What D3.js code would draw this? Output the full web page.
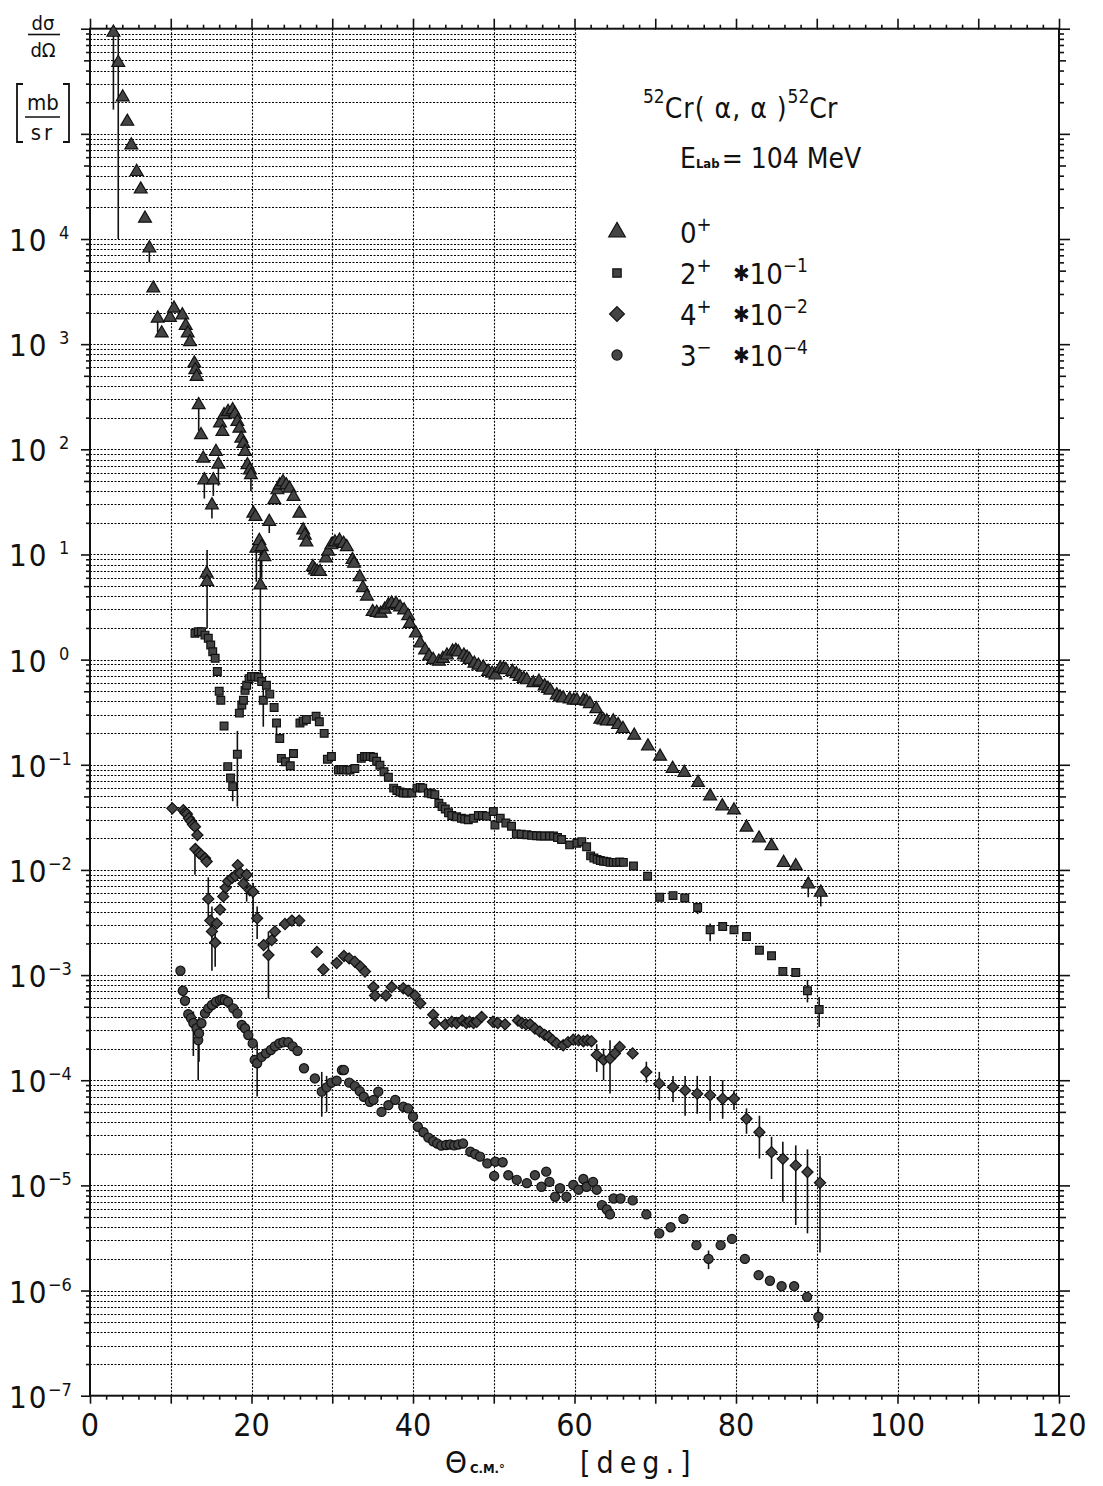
<!DOCTYPE html>
<html>
<head>
<meta charset="utf-8">
<script src="https://cdn.jsdelivr.net/npm/d3@7"></script>
<style>
  body { margin: 0; background: #fff; }
  text { font-family: "DejaVu Sans Condensed", "DejaVu Sans", sans-serif; fill: #111; }
</style>
</head>
<body>
<svg id="chart" width="1103" height="1486"></svg>
<script>
// 52Cr(alpha,alpha)52Cr angular distributions at E_lab = 104 MeV
// [theta_cm (deg), dsigma/dOmega (mb/sr)], excited states already scaled

const groundState = [
  [2.9, 9.2e5], [3.5, 4.75e5], [4.05, 2.23e5], [4.62, 1.31e5], [5.12, 7.8e4], [5.78, 4.36e4],
  [6.28, 2.97e4], [6.81, 1.57e4], [7.35, 8.2e3], [7.84, 3.4e3], [8.38, 1.76e3], [8.88, 1.27e3],
  [9.9, 1.79e3], [10.4, 2.19e3], [11.43, 1.89e3], [11.85, 1.5e3], [12.1, 1.27e3], [12.38, 1.05e3],
  [12.92, 658], [13.04, 568], [13.2, 490], [13.46, 264], [13.75, 137], [14.03, 82], [14.16, 51],
  [14.45, 6.6], [14.5, 5.5], [15.1, 29.5], [15.27, 51], [15.6, 95], [15.9, 72], [16.1, 177],
  [16.4, 147], [16.6, 212], [17.1, 228], [17.67, 237], [17.96, 216], [18.25, 183], [18.5, 158],
  [18.74, 127], [18.99, 113], [19.2, 95], [19.5, 71], [19.8, 63.5], [19.93, 57], [20.23, 24.6],
  [20.5, 22.9], [20.6, 11.4], [20.97, 13.5], [21.1, 5.1], [21.26, 11.8], [21.6, 9.5], [22.2, 20.5],
  [22.83, 33], [23.2, 41], [23.5, 45.7], [23.9, 49], [24.3, 45.7], [24.7, 42.5], [25.2, 35.4],
  [25.93, 24.6], [26.4, 17], [26.6, 15.2], [26.8, 13.1], [27.6, 7.6], [27.86, 7.1], [28.15, 6.85],
  [28.5, 6.85], [29.2, 9.2], [29.5, 10.7], [29.9, 12.3], [30.34, 13.1], [30.9, 13.6], [31.4, 12.7],
  [31.8, 11.8], [32.5, 8.9], [32.7, 8.2], [33.4, 6.1], [33.8, 4.8], [34.3, 4.0], [35.0, 2.85],
  [35.5, 2.8], [36.0, 2.75], [36.5, 3.0], [36.95, 3.3], [37.35, 3.43], [37.9, 3.4], [38.4, 3.15],
  [38.9, 2.95], [39.4, 2.6], [39.6, 2.2], [40.35, 1.78], [40.9, 1.43], [41.5, 1.23], [42.0, 1.08],
  [42.5, 1.0], [43.2, 0.96], [43.7, 1.02], [44.2, 1.1], [44.9, 1.2], [45.3, 1.22], [45.6, 1.18],
  [46.3, 1.1], [46.7, 1.05], [47.0, 1.0], [47.6, 0.92], [48.1, 0.88], [48.7, 0.845], [49.3, 0.77],
  [49.8, 0.74], [50.2, 0.71], [50.8, 0.83], [51.2, 0.82], [51.5, 0.80], [52.3, 0.77], [52.8, 0.73],
  [53.2, 0.69], [53.7, 0.66], [54.1, 0.64], [54.9, 0.60], [55.6, 0.62], [56.3, 0.56], [56.7, 0.53],
  [57.0, 0.51], [57.8, 0.46], [58.2, 0.44], [58.6, 0.43], [59.4, 0.42], [59.9, 0.41], [60.3, 0.41],
  [61.1, 0.41], [61.5, 0.40], [61.9, 0.38], [62.7, 0.34], [63.2, 0.27], [63.6, 0.265], [64.0, 0.26],
  [64.8, 0.26], [65.4, 0.24], [66.0, 0.22], [67.4, 0.19], [69.1, 0.15], [70.6, 0.12],
  [72.15, 0.092], [73.6, 0.084], [75.3, 0.0675], [76.8, 0.0504], [78.3, 0.0405], [79.75, 0.037],
  [81.3, 0.0254], [82.85, 0.020], [84.4, 0.0169], [85.9, 0.0117], [87.4, 0.0109], [88.95, 0.0073],
  [90.5, 0.0061]
];

const state2plus = [
  [13.0, 1.78], [13.4, 1.84], [13.8, 1.84], [14.24, 1.71], [14.65, 1.6], [14.95, 1.38], [15.2, 1.19],
  [15.5, 1.03], [15.77, 0.77], [16.0, 0.50], [16.2, 0.41], [16.6, 0.234], [17.06, 0.096], [17.4, 0.075],
  [17.67, 0.062], [18.25, 0.126], [18.5, 0.31], [18.8, 0.37], [19.0, 0.41], [19.2, 0.51], [19.4, 0.57],
  [19.7, 0.66], [20.0, 0.69], [20.4, 0.69], [20.85, 0.68], [21.26, 0.62], [21.46, 0.41], [21.85, 0.57],
  [22.26, 0.47], [22.8, 0.35], [23.1, 0.25], [23.5, 0.178], [23.7, 0.115], [24.2, 0.107], [24.8, 0.098],
  [25.2, 0.128], [26.0, 0.25], [26.4, 0.26], [26.8, 0.27], [28.0, 0.29], [28.4, 0.257], [29.0, 0.199],
  [29.4, 0.113], [29.9, 0.12], [30.76, 0.089], [31.1, 0.09], [31.4, 0.090], [31.8, 0.089], [32.2, 0.089],
  [32.8, 0.092], [33.6, 0.115], [34.0, 0.12], [34.3, 0.12], [34.7, 0.12], [35.1, 0.118], [35.5, 0.108],
  [35.9, 0.099], [36.4, 0.086], [36.95, 0.076], [37.6, 0.06], [38.0, 0.057], [38.4, 0.055], [38.8, 0.054],
  [39.2, 0.054], [39.85, 0.054], [40.5, 0.06], [40.9, 0.061], [41.2, 0.06], [41.9, 0.054], [42.3, 0.053],
  [42.7, 0.052], [43.2, 0.043], [43.6, 0.04], [44.0, 0.038], [44.4, 0.035], [44.8, 0.033], [45.4, 0.032],
  [46.0, 0.031], [46.4, 0.0305], [46.85, 0.030], [47.5, 0.031], [48.1, 0.033], [48.6, 0.033], [49.1, 0.0325],
  [49.95, 0.036], [50.15, 0.0267], [50.8, 0.031], [51.5, 0.028], [52.2, 0.026], [52.8, 0.022], [53.4, 0.0218],
  [54.1, 0.0216], [54.7, 0.0213], [55.3, 0.0211], [55.8, 0.021], [56.3, 0.021], [56.9, 0.021], [57.4, 0.021],
  [57.9, 0.0203], [58.4, 0.0195], [59.4, 0.0173], [60.3, 0.0179], [60.9, 0.0185], [61.5, 0.0166],
  [62.0, 0.0136], [62.4, 0.013], [62.8, 0.0126], [63.2, 0.0123], [63.6, 0.0121], [64.0, 0.012],
  [64.4, 0.0118], [64.8, 0.0118], [65.2, 0.0118], [65.6, 0.0119], [66.05, 0.0118],
  [67.3, 0.0109], [69.05, 0.0087], [70.55, 0.0055], [72.2, 0.0057], [73.65, 0.0054], [75.25, 0.0044],
  [76.8, 0.0027], [78.35, 0.0029], [79.75, 0.0027], [81.3, 0.00233], [82.9, 0.00172], [84.4, 0.00153],
  [85.8, 0.00108], [87.4, 0.00106], [88.85, 0.00071], [90.3, 0.00047]
];

const state4plus = [
  [10.2, 0.0385], [11.56, 0.037], [11.8, 0.035], [12.0, 0.034], [12.25, 0.031], [12.5, 0.029],
  [12.75, 0.027], [13.0, 0.0258], [13.3, 0.0215], [13.05, 0.0158], [13.5, 0.0145], [13.8, 0.0139],
  [14.24, 0.0129], [14.45, 0.012], [14.65, 0.0053], [14.9, 0.0033], [15.1, 0.0026], [15.5, 0.00204],
  [15.7, 0.0031], [16.1, 0.0042], [16.5, 0.0056], [16.8, 0.0068], [17.1, 0.0078], [17.6, 0.0084],
  [18.0, 0.0088], [18.3, 0.0111], [18.6, 0.0093], [19.0, 0.0074], [19.4, 0.009], [19.8, 0.0064],
  [20.2, 0.0062], [20.7, 0.00347], [21.5, 0.00193], [22.1, 0.00155], [22.5, 0.00215], [22.9, 0.0026],
  [24.15, 0.00306], [25.0, 0.0033], [25.9, 0.0033], [28.1, 0.00166], [28.9, 0.00113],
  [30.55, 0.0013], [31.45, 0.00152], [32.1, 0.00144], [32.8, 0.00134], [33.5, 0.0012], [34.05, 0.00108],
  [35.1, 0.00077], [35.3, 0.00064], [36.65, 0.00064], [37.35, 0.00077], [38.8, 0.00075], [39.4, 0.00071],
  [40.25, 0.00064], [40.9, 0.00054], [42.5, 0.00042], [42.7, 0.00035], [44.0, 0.00034], [44.8, 0.00036],
  [45.4, 0.00035], [46.1, 0.00037], [46.6, 0.00035], [47.0, 0.00036], [47.5, 0.00035], [47.9, 0.00036],
  [48.5, 0.0004], [49.9, 0.00036], [50.5, 0.00035], [51.4, 0.00034], [53.0, 0.00037], [53.5, 0.00035],
  [54.0, 0.00034], [54.5, 0.00034], [55.1, 0.00031], [55.7, 0.00029], [56.3, 0.00027], [56.8, 0.00026],
  [57.3, 0.00024], [57.8, 0.000224], [58.6, 0.000215], [59.2, 0.00023], [59.85, 0.000243], [60.5, 0.00024],
  [61.1, 0.000235], [61.6, 0.00024], [62.1, 0.000235], [62.75, 0.000174], [63.6, 0.000156],
  [64.4, 0.000161], [65.0, 0.00018], [65.6, 0.000207], [67.2, 0.00018], [68.9, 0.00012], [70.5, 9.27e-5],
  [72.2, 8.6e-5], [73.7, 8.0e-5], [75.2, 7.45e-5], [76.8, 7.2e-5], [78.35, 6.67e-5], [79.75, 6.67e-5],
  [81.3, 4.3e-5], [82.9, 3.21e-5], [84.4, 2.07e-5], [85.8, 1.79e-5], [87.4, 1.55e-5], [88.85, 1.34e-5],
  [90.4, 1.06e-5]
];

const state3minus = [
  [11.2, 0.0011], [11.5, 0.00071], [11.76, 0.00057], [12.17, 0.000425], [12.5, 0.00039], [12.8, 0.00035],
  [13.2, 0.000312], [13.4, 0.000241], [13.5, 0.000279], [13.8, 0.000348], [14.24, 0.000433],
  [14.65, 0.000483], [15.1, 0.000519], [15.6, 0.000558], [16.1, 0.00058], [16.4, 0.00059], [16.7, 0.00058],
  [17.1, 0.000558], [17.75, 0.000483], [18.25, 0.000433], [18.8, 0.000335], [19.2, 0.000312],
  [19.6, 0.000269], [20.15, 0.000224], [20.4, 0.000156], [20.7, 0.000145], [21.26, 0.000167],
  [21.8, 0.00018], [22.4, 0.000194], [22.9, 0.00021], [23.45, 0.000224], [23.95, 0.00023], [24.55, 0.00023],
  [25.1, 0.00021], [25.7, 0.00019], [26.5, 0.00013], [27.85, 0.000104], [28.7, 7.8e-5], [29.3, 8.56e-5],
  [29.9, 9.5e-5], [30.55, 9.9e-5], [31.2, 0.000125], [31.45, 0.000125], [32.1, 9.5e-5], [32.8, 8.8e-5],
  [33.4, 7.88e-5], [33.9, 6.97e-5], [34.65, 6.24e-5], [35.1, 6.5e-5], [35.7, 7.78e-5], [36.1, 5.0e-5],
  [36.95, 5.8e-5], [37.8, 6.5e-5], [38.8, 5.6e-5], [39.4, 5.4e-5], [40.0, 4.5e-5], [40.6, 3.61e-5],
  [41.3, 3.2e-5], [41.9, 2.85e-5], [42.5, 2.63e-5], [43.0, 2.5e-5], [43.5, 2.39e-5], [44.1, 2.42e-5],
  [44.6, 2.45e-5], [45.1, 2.4e-5], [45.6, 2.45e-5], [46.2, 2.5e-5], [47.1, 2.09e-5], [47.7, 1.98e-5],
  [48.3, 1.88e-5], [49.2, 1.62e-5], [50.05, 1.23e-5], [50.2, 1.68e-5], [51.1, 1.66e-5], [51.8, 1.25e-5],
  [52.85, 1.13e-5], [54.1, 1.05e-5], [55.1, 1.25e-5], [55.9, 9.7e-6], [56.5, 1.35e-5], [56.9, 1.08e-5],
  [57.6, 7.8e-6], [58.2, 9.4e-6], [59.0, 7.8e-6], [59.85, 1.01e-5], [60.5, 9.1e-6], [61.1, 1.15e-5],
  [61.5, 9.7e-6], [62.3, 1.08e-5], [62.75, 9.1e-6], [63.4, 6.5e-6], [64.0, 5.9e-6], [64.4, 5.3e-6],
  [64.85, 7.5e-6], [65.7, 7.5e-6], [67.2, 7.2e-6], [68.9, 5.3e-6], [70.5, 3.5e-6], [71.9, 4.0e-6],
  [73.5, 4.8e-6], [75.1, 2.7e-6], [76.6, 2.0e-6], [78.1, 2.7e-6], [79.5, 3.1e-6], [81.1, 2.0e-6],
  [82.8, 1.4e-6], [84.2, 1.24e-6], [85.65, 1.1e-6], [87.2, 1.1e-6], [88.8, 8.7e-7], [90.2, 5.6e-7]
];

// visible error bars: [theta, lower, upper]
const barsGroundState = [
  [2.9, 1.7e5, 1e6], [3.5, 1e4, 9e5], [7.35, 6.0e3, 8.2e3], [8.38, 1.3e3, 1.76e3], [13.46, 150, 300],
  [14.16, 34, 60], [14.5, 2.0, 11], [15.27, 36, 60], [15.1, 22, 34], [15.9, 45, 75], [19.93, 40, 60],
  [20.6, 5.5, 14], [21.1, 0.66, 12], [21.26, 6, 14], [22.2, 16, 22], [88.95, 0.0055, 0.0085],
  [90.5, 0.0045, 0.0072]
];
const barsState2plus = [
  [17.67, 0.045, 0.08], [18.25, 0.04, 0.21], [21.46, 0.23, 0.6], [23.1, 0.2, 0.26], [75.25, 0.0038, 0.0046],
  [76.8, 0.0021, 0.0031], [88.85, 0.00055, 0.0009], [90.3, 0.00032, 0.00062]
];
const barsState4plus = [
  [13.0, 0.009, 0.016], [14.65, 0.0035, 0.0085], [15.1, 0.0011, 0.0045], [15.5, 0.0012, 0.0025],
  [19.4, 0.005, 0.01], [20.2, 0.0032, 0.0075], [20.7, 0.0022, 0.0045], [22.1, 0.0006, 0.0026],
  [62.75, 0.00012, 0.00022], [63.6, 0.0001, 0.0002], [64.4, 7.5e-5, 0.00024], [68.9, 9.5e-5, 0.00015],
  [70.5, 6.5e-5, 0.00012], [72.2, 6.2e-5, 0.00011], [73.7, 4.6e-5, 0.00011], [75.2, 4.8e-5, 0.00011],
  [76.8, 4.1e-5, 0.00011], [78.35, 4.3e-5, 0.0001], [79.75, 5.2e-5, 8.0e-5], [81.3, 3.1e-5, 5.4e-5],
  [82.9, 1.8e-5, 4.6e-5], [84.4, 1.15e-5, 2.9e-5], [85.8, 7.0e-6, 2.6e-5], [87.4, 4.2e-6, 2.4e-5],
  [88.85, 3.5e-6, 2.2e-5], [90.4, 2.3e-6, 1.9e-5]
];
const barsState3minus = [
  [12.8, 0.00017, 0.00045], [13.4, 0.0001, 0.00038], [13.5, 0.00015, 0.0004], [20.7, 7.0e-5, 0.00022],
  [28.7, 4.5e-5, 0.00012], [29.3, 5.0e-5, 0.00011], [76.6, 1.6e-6, 2.4e-6], [90.2, 4.4e-7, 7.0e-7]
];

const xTickLabels = [0, 20, 40, 60, 80, 100, 120];
const yDecades = [-7, -6, -5, -4, -3, -2, -1, 0, 1, 2, 3, 4];
const legendLabels = [
  { name: "0", sign: "+", scale: null },
  { name: "2", sign: "+", scale: "-1" },
  { name: "4", sign: "+", scale: "-2" },
  { name: "3", sign: "−", scale: "-4" }
];

const svg = d3.select("#chart");
const x = d3.scaleLinear().domain([0, 120]).range([90, 1059]);
const y = d3.scaleLog().domain([1e-7, 1e6]).range([1395.7, 28.7]);
const X0 = x(0), X1 = x(120), Y0 = y(1e-7), Y1 = y(1e6);
const crisp = v => Math.round(v) + 0.5;

svg.append("rect").attr("width", 1103).attr("height", 1486).attr("fill", "#fff");

// ---- dotted grid ----
const gridVals = [];
for (let e = -7; e <= 5; e++) for (let m = 1; m <= 9; m++) {
  const v = m * Math.pow(10, e);
  if (v > 1e-7 * 1.01 && v < 1e6 * 0.99) gridVals.push(v);
}
const grid = svg.append("g").attr("stroke", "#000").attr("stroke-width", 1.1)
  .attr("stroke-dasharray", "2,1.5");
grid.selectAll("line.h").data(gridVals).join("line").attr("class", "h")
  .attr("x1", X0).attr("x2", X1).attr("y1", d => crisp(y(d))).attr("y2", d => crisp(y(d)));
grid.selectAll("line.v").data(d3.range(10, 120, 10)).join("line").attr("class", "v")
  .attr("x1", d => crisp(x(d))).attr("x2", d => crisp(x(d))).attr("y1", Y1).attr("y2", Y0);

// white panel holding the reaction label and legend
svg.append("rect")
  .attr("x", crisp(x(60)) + 1).attr("y", Y1 + 1)
  .attr("width", X1 - crisp(x(60)) - 2).attr("height", crisp(y(1e2)) - Y1 - 2)
  .attr("fill", "#fff");

// ---- axes ----
function styleAxis(g) {
  g.select(".domain").remove();
  g.selectAll(".tick line").attr("stroke", "#111").attr("stroke-width", 1.6);
}
const minorX = d3.range(0, 121, 2).filter(d => d % 10 !== 0);
const majorX = d3.range(0, 121, 10);
svg.append("g").attr("transform", `translate(0,${Y0})`)
  .call(d3.axisBottom(x).tickValues(minorX).tickSize(4).tickFormat("")).call(styleAxis);
svg.append("g").attr("transform", `translate(0,${Y0})`)
  .call(d3.axisBottom(x).tickValues(majorX).tickSize(8).tickFormat("")).call(styleAxis);
svg.append("g").attr("transform", `translate(0,${Y1})`)
  .call(d3.axisTop(x).tickValues(minorX).tickSize(4).tickFormat("")).call(styleAxis);
svg.append("g").attr("transform", `translate(0,${Y1})`)
  .call(d3.axisTop(x).tickValues(majorX).tickSize(10).tickFormat("")).call(styleAxis);

const decadeVals = d3.range(-7, 7).map(e => Math.pow(10, e));
const fiveVals = gridVals.filter(v => Math.abs(v / Math.pow(10, Math.floor(Math.log10(v) + 1e-9)) - 5) < 1e-6);
const minorY = gridVals.filter(v => !fiveVals.includes(v) && !decadeVals.some(d => Math.abs(d - v) / d < 1e-6));
[[d3.axisLeft, X0, -1], [d3.axisRight, X1, 1]].forEach(([ax, pos, s]) => {
  svg.append("g").attr("transform", `translate(${pos},0)`)
    .call(ax(y).tickValues(minorY).tickSize(s < 0 ? 4 : 5).tickFormat("")).call(styleAxis);
  svg.append("g").attr("transform", `translate(${pos},0)`)
    .call(ax(y).tickValues(fiveVals).tickSize(s < 0 ? 6 : 7).tickFormat("")).call(styleAxis);
  svg.append("g").attr("transform", `translate(${pos},0)`)
    .call(ax(y).tickValues(decadeVals).tickSize(s < 0 ? 9 : 11).tickFormat("")).call(styleAxis);
});

// frame
svg.append("rect").attr("x", X0).attr("y", Y1).attr("width", X1 - X0).attr("height", Y0 - Y1)
  .attr("fill", "none").attr("stroke", "#111").attr("stroke-width", 2);

// x tick labels
svg.append("g").selectAll("text").data(xTickLabels).join("text")
  .attr("x", d => x(d)).attr("y", 1436).attr("text-anchor", "middle")
  .attr("font-size", 32).text(d => d);

// y tick labels 10^n: mantissa left aligned, exponent in a fixed-width field
const ylg = svg.append("g").selectAll("g").data(yDecades).join("g")
  .attr("transform", d => `translate(0,${y(Math.pow(10, d))})`);
ylg.append("text").attr("x", 9).attr("y", 12).attr("font-size", 31).attr("letter-spacing", 2).text("10");
ylg.append("text").attr("x", d => d < 0 ? 48 : 59).attr("y", 0).attr("font-size", 18)
  .text(d => d < 0 ? "−" + Math.abs(d) : String(d));

// ---- y axis title: dσ/dΩ [mb/sr] ----
const yt = svg.append("g");
yt.append("text").attr("x", 43).attr("y", 30).attr("text-anchor", "middle").attr("font-size", 20).text("dσ");
yt.append("line").attr("x1", 28).attr("x2", 60).attr("y1", 34.5).attr("y2", 34.5).attr("stroke", "#111").attr("stroke-width", 1.6);
yt.append("text").attr("x", 43).attr("y", 57).attr("text-anchor", "middle").attr("font-size", 20).text("dΩ");
yt.append("path").attr("d", "M23,84 H17 V142 H23 M63,84 H69 V142 H63")
  .attr("fill", "none").attr("stroke", "#111").attr("stroke-width", 1.8);
yt.append("text").attr("x", 43).attr("y", 110).attr("text-anchor", "middle").attr("font-size", 22).text("mb");
yt.append("line").attr("x1", 25).attr("x2", 60).attr("y1", 117).attr("y2", 117).attr("stroke", "#111").attr("stroke-width", 1.6);
yt.append("text").attr("x", 43).attr("y", 140).attr("text-anchor", "middle").attr("font-size", 22)
  .attr("letter-spacing", 3).text("sr");

// ---- x axis title ----
const xt = svg.append("text").attr("x", 445).attr("y", 1473);
xt.append("tspan").attr("font-size", 31).text("Θ");
xt.append("tspan").attr("font-size", 13).attr("font-weight", "bold").attr("dx", 3).text("C.M.°");
svg.append("text").attr("x", 580).attr("y", 1473).attr("font-size", 30).attr("letter-spacing", 6).text("[deg.]");

// ---- markers ----
const diamond = {
  draw(ctx, size) {
    const r = Math.sqrt(size / 2);
    ctx.moveTo(0, -r); ctx.lineTo(r, 0); ctx.lineTo(0, r); ctx.lineTo(-r, 0); ctx.closePath();
  }
};
const series = [
  { data: groundState, bars: barsGroundState, type: d3.symbolTriangle, size: 72 },
  { data: state2plus, bars: barsState2plus, type: d3.symbolSquare, size: 60 },
  { data: state4plus, bars: barsState4plus, type: diamond, size: 62 },
  { data: state3minus, bars: barsState3minus, type: d3.symbolCircle, size: 66 }
];
const clamp = v => Math.min(1e6, Math.max(1e-7, v));
const marks = svg.append("g");
series.forEach(s => {
  marks.append("g").attr("stroke", "#111").attr("stroke-width", 1.6)
    .selectAll("line").data(s.bars).join("line")
    .attr("x1", d => x(d[0])).attr("x2", d => x(d[0]))
    .attr("y1", d => y(clamp(d[1]))).attr("y2", d => y(clamp(d[2])));
  marks.append("g").selectAll("path").data(s.data).join("path")
    .attr("transform", d => `translate(${x(d[0])},${y(d[1])})`)
    .attr("d", d3.symbol().type(s.type).size(s.size))
    .attr("fill", "#444").attr("stroke", "#111").attr("stroke-width", 1.2);
});

// ---- reaction label and legend ----
const title = svg.append("text").attr("x", 643).attr("y", 118);
title.append("tspan").attr("font-size", 19).attr("dy", -15).text("52");
title.append("tspan").attr("font-size", 28).attr("dy", 15).attr("letter-spacing", 1).text("Cr( α, α )");
title.append("tspan").attr("font-size", 19).attr("dy", -15).text("52");
title.append("tspan").attr("font-size", 28).attr("dy", 15).text("Cr");

const energy = svg.append("text").attr("x", 680).attr("y", 168);
energy.append("tspan").attr("font-size", 28).text("E");
energy.append("tspan").attr("font-size", 13).attr("font-weight", "bold").text("Lab");
energy.append("tspan").attr("font-size", 28).attr("dx", 2).text("= 104 MeV");

const legendTypes = [d3.symbolTriangle, d3.symbolSquare, diamond, d3.symbolCircle];
const legendSizes = [120, 70, 110, 80];
const lg = svg.append("g").selectAll("g").data(legendLabels).join("g")
  .attr("transform", (d, i) => `translate(0,${232 + i * 41})`);
lg.append("path").attr("transform", "translate(617,0)")
  .attr("d", (d, i) => d3.symbol().type(legendTypes[i]).size(legendSizes[i])())
  .attr("fill", "#444").attr("stroke", "#111").attr("stroke-width", 1.2);
const lt = lg.append("text").attr("x", 680).attr("y", 11);
lt.append("tspan").attr("font-size", 29).text(d => d.name);
lt.append("tspan").attr("font-size", 20).attr("dy", -12).text(d => d.sign);
const ls = lg.filter(d => d.scale).append("text").attr("x", 733).attr("y", 11);
ls.append("tspan").attr("font-size", 22).attr("dy", -3).text("✱");
ls.append("tspan").attr("font-size", 29).attr("dy", 3).text("10");
ls.append("tspan").attr("font-size", 19).attr("dy", -12).text(d => d.scale.replace("-", "−"));
</script>
</body>
</html>
